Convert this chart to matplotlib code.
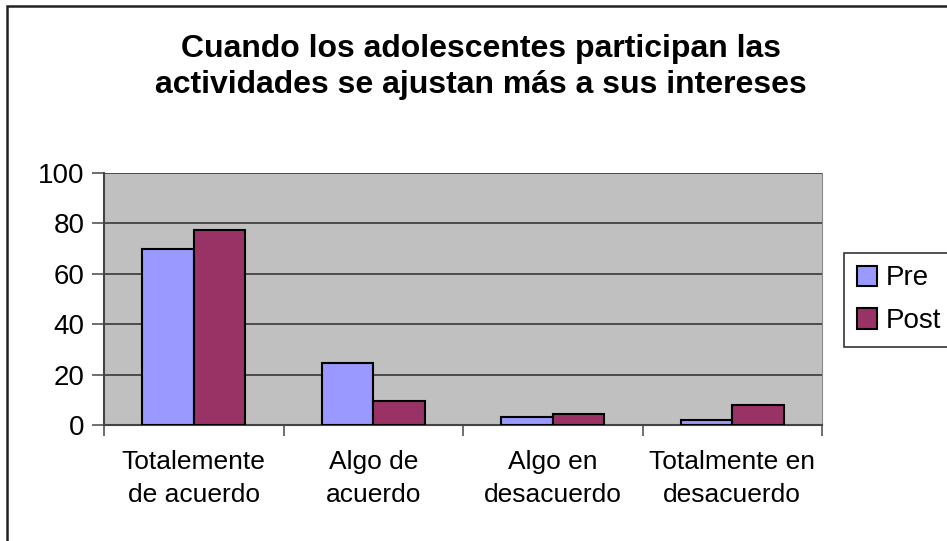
import matplotlib
matplotlib.use("Agg")
import matplotlib.pyplot as plt
from matplotlib.patches import Rectangle
import numpy as np

categories = ["Totalemente\nde acuerdo", "Algo de\nacuerdo", "Algo en\ndesacuerdo", "Totalmente en\ndesacuerdo"]
series_names = ["Pre", "Post"]
pre_values = [70, 24.5, 3, 2]
post_values = [77.5, 9.5, 4.5, 8]
yticks = [0, 20, 40, 60, 80, 100]
title = "Cuando los adolescentes participan las\nactividades se ajustan más a sus intereses"

plt.rcParams['font.family'] = ['Liberation Sans', 'DejaVu Sans']

W, H = 947, 541
fig = plt.figure(figsize=(W / 100, H / 100), dpi=100)
fig.patch.set_facecolor('white')

# chart area border
fig.patches.append(Rectangle((7 / W, 0 - 0.1), 1.2, (H - 6) / H + 0.1, transform=fig.transFigure,
                             fill=False, edgecolor='#222222', linewidth=1.8))

left, right, top, bottom = 104, 822, 173, 425
ax = fig.add_axes([left / W, (H - bottom) / H, (right - left) / W, (bottom - top) / H])
ax.set_facecolor('#C0C0C0')

x = np.arange(len(categories))
w = 1 / 3.5
ax.bar(x - w / 2, pre_values, w, color='#9999FF', edgecolor='black', linewidth=1.5, label=series_names[0], zorder=3)
ax.bar(x + w / 2, post_values, w, color='#993366', edgecolor='black', linewidth=1.5, label=series_names[1], zorder=3)

ax.set_xlim(-0.5, len(categories) - 0.5)
ax.set_ylim(0, 100)
ax.set_yticks(yticks)
ax.yaxis.grid(True, color='#383838', linewidth=1.2, zorder=1)
ax.set_axisbelow(True)

ax.set_xticks(np.arange(len(categories) + 1) - 0.5)
ax.set_xticklabels([])
ax.set_xticks(x, minor=True)
ax.set_xticklabels(categories, minor=True, fontsize=19, linespacing=1.5)
ax.tick_params(axis='x', which='minor', length=0, pad=18)
ax.tick_params(axis='x', which='major', length=8, width=1.2, color='#555555', direction='out')
ax.tick_params(axis='y', length=9, width=1.2, color='#555555', direction='out', labelsize=20, pad=5)

ax.spines['top'].set_visible(False)
ax.spines['right'].set_color('#888888')
ax.spines['left'].set_color('#444444')
ax.spines['left'].set_linewidth(1.5)
ax.spines['bottom'].set_color('#444444')
ax.spines['bottom'].set_linewidth(1.5)

fig.text(481 / W, 1 - 67 / H, title, ha='center', va='center', fontsize=23, fontweight='bold', linespacing=1.3)

leg = fig.legend(loc='upper left', bbox_to_anchor=(844 / W, 1 - 253 / H), fontsize=20,
                 frameon=True, fancybox=False, handlelength=0.75, handleheight=0.75,
                 handletextpad=0.3, borderpad=0.45, labelspacing=0.6, borderaxespad=0)
leg.get_frame().set_edgecolor('black')
leg.get_frame().set_linewidth(1.2)

fig.savefig('out.png', dpi=100)
